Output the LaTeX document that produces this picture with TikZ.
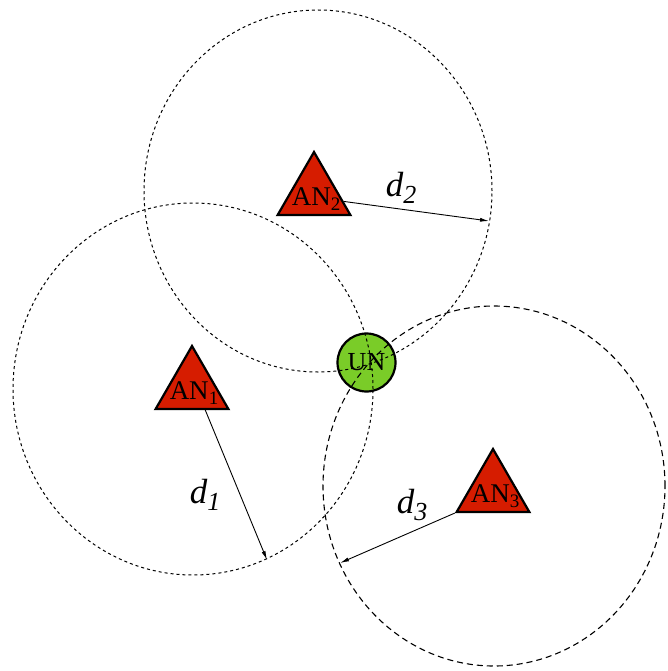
\documentclass[tikz,border=0pt]{standalone}
\usepackage{fontspec}
\setmainfont{Liberation Serif}
\usetikzlibrary{shapes.geometric,arrows.meta}
\definecolor{anred}{RGB}{214,28,0}
\definecolor{ungreen}{RGB}{122,204,40}
\begin{document}
\begin{tikzpicture}[x=1pt,y=-1pt,
  antri/.style={regular polygon,regular polygon sides=3,minimum size=84pt,inner sep=0pt,draw=black,line width=2.2pt,fill=anred},
  antext/.style={inner sep=0pt,font=\fontsize{27}{27}\selectfont},
  unnode/.style={circle,draw=black,line width=2.2pt,fill=ungreen,minimum size=58pt,inner sep=0pt,font=\fontsize{26}{26}\selectfont},
  rangeA/.style={line width=1pt,dash pattern=on 3pt off 3pt},
  rangeB/.style={line width=1.1pt,dash pattern=on 6pt off 4pt},
  dist/.style={line width=0.9pt,-{Latex[length=9pt,width=4pt]}},
  dlabel/.style={inner sep=0pt,font=\fontsize{35}{35}\selectfont\itshape}]
\useasboundingbox (0,0) rectangle (667,671);
% user node
\node[unnode] (un) at (366.5,362.5) {UN};
% range circles
\draw[rangeA] (318,191) ellipse [x radius=174pt, y radius=181pt];
\draw[rangeA] (193,389) ellipse [x radius=180pt, y radius=186pt];
\draw[rangeB] (494,486) ellipse [x radius=171pt, y radius=180pt];
% anchor nodes
\node[antri] (an2) at (314,194) {};
\node[antri] (an1) at (192,388) {};
\node[antri] (an3) at (493,491) {};
\node[antext] (t2) at (316,199) {AN\raisebox{-5pt}{\fontsize{19}{19}\selectfont 2}};
\node[antext] (t1) at (194,393) {AN\raisebox{-5pt}{\fontsize{19}{19}\selectfont 1}};
\node[antext] (t3) at (495,496) {AN\raisebox{-5pt}{\fontsize{19}{19}\selectfont 3}};
% distance arrows
\coordinate (e2) at (489,221);
\coordinate (e1) at (267,560);
\coordinate (e3) at (340,563);
\draw[dist] (an2.-14) -- (e2);
\draw[dist] (an1.-59) -- (e1);
\draw[dist] (an3.corner 2) -- (e3);
\node[dlabel] (d2) at (401,188) {d\raisebox{-7pt}{\fontsize{26}{26}\selectfont 2}};
\node[dlabel] (d1) at (205,495) {d\raisebox{-7pt}{\fontsize{26}{26}\selectfont 1}};
\node[dlabel] (d3) at (412,505) {d\raisebox{-7pt}{\fontsize{26}{26}\selectfont 3}};
\end{tikzpicture}
\end{document}
